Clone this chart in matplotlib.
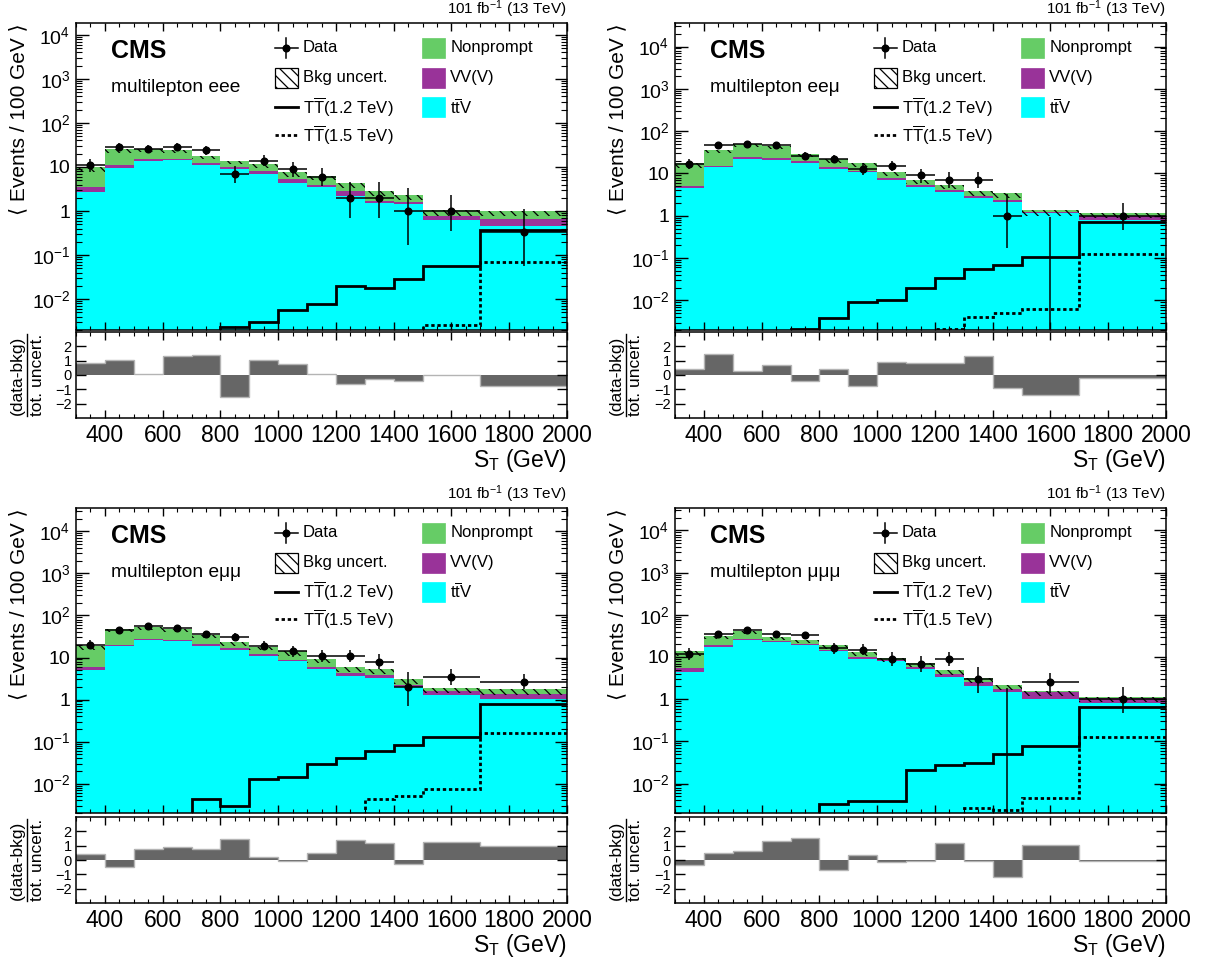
import numpy as np
import matplotlib
matplotlib.use('Agg')
import matplotlib.pyplot as plt
from matplotlib.ticker import LogLocator, FuncFormatter, MultipleLocator, FixedLocator, NullFormatter
from matplotlib.lines import Line2D
from matplotlib.patches import Rectangle

plt.rcParams['font.family'] = ['Liberation Sans', 'DejaVu Sans']
plt.rcParams['mathtext.fontset'] = 'custom'
plt.rcParams['mathtext.rm'] = 'Liberation Sans'
plt.rcParams['mathtext.it'] = 'Liberation Sans:italic'
plt.rcParams['mathtext.bf'] = 'Liberation Sans:bold'
plt.rcParams['mathtext.sf'] = 'Liberation Sans'
plt.rcParams['hatch.linewidth'] = 0.9
plt.rcParams['axes.unicode_minus'] = True

# ---------------- data ----------------
bin_edges = [300, 400, 500, 600, 700, 800, 900, 1000, 1100, 1200, 1300, 1400, 1500, 1700, 2000]
channels = ['eee', 'ee\u03bc', 'e\u03bc\u03bc', '\u03bc\u03bc\u03bc']

# backgrounds (events / 100 GeV)
ttv_eee = [2.75, 9.7, 13.9, 14.4, 11.1, 9.0, 6.8, 4.25, 3.6, 2.2, 1.5, 1.44, 0.62, 0.455]
vv_eee = [0.70, 1.4, 1.6, 1.1, 1.5, 1.2, 1.4, 1.0, 0.4, 0.65, 0.19, 0.16, 0.15, 0.195]
nonprompt_eee = [6.55, 13.9, 10.5, 8.5, 5.1, 3.8, 3.3, 2.35, 2.2, 1.4, 1.21, 0.7, 0.28, 0.37]

ttv_eem = [4.5, 14.6, 21.8, 21.0, 17.5, 12.9, 10.6, 7.1, 4.9, 3.56, 2.57, 2.14, 1.16, 0.8]
vv_eem = [0.6, 0.8, 2.1, 1.6, 1.7, 1.0, 0.7, 0.6, 0.5, 0.44, 0.43, 0.25, 0.08, 0.2]
nonprompt_eem = [12.4, 20.9, 25.1, 22.4, 9.8, 7.9, 6.2, 3.4, 1.7, 1.4, 0.96, 1.04, 0.10, 0.16]

ttv_emm = [5.1, 18.5, 26.1, 25.2, 19.2, 15.4, 11.1, 8.05, 5.4, 3.56, 3.25, 2.0, 1.27, 1.05]
vv_emm = [0.8, 1.8, 1.5, 1.4, 1.8, 1.5, 1.1, 0.75, 0.5, 0.7, 0.51, 0.18, 0.30, 0.34]
nonprompt_emm = [13.3, 27.2, 26.4, 20.9, 13.3, 6.2, 6.0, 5.1, 3.4, 1.64, 1.44, 0.84, 0.32, 0.36]

ttv_mmm = [4.3, 17.1, 25.5, 22.5, 18.8, 13.8, 9.1, 7.9, 5.1, 3.4, 2.1, 1.46, 1.0, 0.8]
vv_mmm = [1.2, 1.7, 1.9, 2.0, 1.7, 1.1, 0.9, 0.8, 0.7, 0.5, 0.5, 0.26, 0.48, 0.24]
nonprompt_mmm = [8.1, 13.4, 14.8, 6.0, 5.4, 3.9, 3.1, 0.8, 1.4, 1.0, 0.5, 0.45, 0.12, 0.11]

bkg_unc_rel = [0.22, 0.16, 0.15, 0.15, 0.16, 0.17, 0.18, 0.2, 0.2, 0.22, 0.24, 0.24, 0.25, 0.25]

# observed event counts per bin
data_eee = [11, 29, 26, 29, 24, 7, 14, 9, 6, 2, 2, 1, 2, 1]
data_eem = [17, 46, 50, 46, 26, 22, 13, 15, 9, 7, 7, 1, 0, 3]
data_emm = [20, 45, 57, 51, 36, 31, 19, 14, 11, 11, 8, 2, 7, 8]
data_mmm = [12, 35, 44, 35, 33, 16, 15, 9, 7, 9, 3, 0, 5, 3]

# signals (events / 100 GeV)
tt12_eee = [0.001, 0.001, 0.001, 0.001, 0.001, 0.0023, 0.003, 0.0058, 0.0077, 0.0197, 0.0184, 0.028, 0.057, 0.38]
tt15_eee = [0.001, 0.001, 0.001, 0.001, 0.001, 0.001, 0.001, 0.001, 0.001, 0.001, 0.001, 0.001, 0.0026, 0.07]
tt12_eem = [0.001, 0.001, 0.001, 0.001, 0.0021, 0.0038, 0.009, 0.0104, 0.0196, 0.0337, 0.055, 0.07, 0.106, 0.70]
tt15_eem = [0.001, 0.001, 0.001, 0.001, 0.001, 0.001, 0.001, 0.001, 0.001, 0.0021, 0.004, 0.005, 0.0062, 0.126]
tt12_emm = [0.001, 0.001, 0.001, 0.001, 0.0042, 0.0029, 0.0131, 0.0141, 0.0297, 0.0404, 0.0613, 0.082, 0.131, 0.79]
tt15_emm = [0.001, 0.001, 0.001, 0.001, 0.001, 0.001, 0.001, 0.001, 0.001, 0.001, 0.0044, 0.005, 0.0075, 0.163]
tt12_mmm = [0.001, 0.001, 0.001, 0.001, 0.001, 0.0032, 0.0039, 0.0039, 0.0213, 0.0274, 0.030, 0.0514, 0.078, 0.65]
tt15_mmm = [0.001, 0.001, 0.001, 0.001, 0.001, 0.001, 0.001, 0.001, 0.001, 0.001, 0.0026, 0.0023, 0.0046, 0.129]

# (data-bkg)/tot. uncert.
pull_eee = [0.85, 1.08, 0.07, 1.3, 1.42, -1.53, 1.08, 0.78, 0.1, -0.65, -0.25, -0.45, 0.02, -0.8]
pull_eem = [0.4, 1.47, 0.25, 0.67, -0.42, 0.4, -0.8, 0.93, 0.86, 0.81, 1.3, -0.93, -1.42, -0.22]
pull_emm = [0.44, -0.47, 0.79, 0.93, 0.77, 1.47, 0.21, -0.07, 0.49, 1.37, 1.19, -0.3, 1.26, 1.0]
pull_mmm = [-0.33, 0.51, 0.6, 1.3, 1.56, -0.67, 0.35, -0.16, -0.09, 1.21, -0.1, -1.16, 1.02, -0.1]

ymax_list = [1.85e4, 3.6e4, 3.6e4, 3.4e4]
ymin = 0.002

ttv_all = [ttv_eee, ttv_eem, ttv_emm, ttv_mmm]
vv_all = [vv_eee, vv_eem, vv_emm, vv_mmm]
np_all = [nonprompt_eee, nonprompt_eem, nonprompt_emm, nonprompt_mmm]
data_all = [data_eee, data_eem, data_emm, data_mmm]
tt12_all = [tt12_eee, tt12_eem, tt12_emm, tt12_mmm]
tt15_all = [tt15_eee, tt15_eem, tt15_emm, tt15_mmm]
pull_all = [pull_eee, pull_eem, pull_emm, pull_mmm]

lumi_text = r'101 fb$^{-1}$ (13 TeV)'
ylabel_main = '\u27e8 Events / 100 GeV \u27e9'

c_np = '#66cc66'
c_vv = '#993399'
c_ttv = '#00ffff'
c_pull = '#666666'
c_pull_edge = '#b4b4b4'
HATCH = '\\\\\\'

W, H = 1211, 960
fig = plt.figure(figsize=(W / 100, H / 100), dpi=100)


def fx(px):
    return px / W


def fy(py):
    return 1 - py / H


def garwood(n):
    n = np.asarray(n, float)
    nn = np.maximum(n, 1)
    lo = np.where(n > 0, nn * (1 - 1 / (9 * nn) - 1 / (3 * np.sqrt(nn))) ** 3, 0.0)
    m = n + 1
    hi = m * (1 - 1 / (9 * m) + 1 / (3 * np.sqrt(m))) ** 3
    return lo, hi


def ylab(v, pos):
    e = int(round(np.log10(v)))
    if e == 0:
        return '1'
    if e == 1:
        return '10'
    return r'$10^{%d}$' % e


col_left = [76, 675]
ax_w = 491
row_main = [(23, 330), (508, 813)]
row_ratio = [(332, 418), (817, 903)]

edges = np.array(bin_edges, float)
centers = 0.5 * (edges[:-1] + edges[1:])
widths = np.diff(edges)

for i, ch in enumerate(channels):
    r, c = divmod(i, 2)
    x0 = col_left[c]
    mt, mb = row_main[r]
    rt, rb = row_ratio[r]
    ax = fig.add_axes([fx(x0), fy(mb), fx(ax_w), (mb - mt) / H])
    axr = fig.add_axes([fx(x0), fy(rb), fx(ax_w), (rb - rt) / H])

    ttv = np.array(ttv_all[i])
    vv = np.array(vv_all[i])
    npr = np.array(np_all[i])
    total = ttv + vv + npr
    unc = np.array(bkg_unc_rel)

    ax.set_yscale('log')
    ax.stairs(total, edges, baseline=1e-6, fill=True, color=c_np, lw=0)
    ax.stairs(ttv + vv, edges, baseline=1e-6, fill=True, color=c_vv, lw=0)
    ax.stairs(ttv, edges, baseline=1e-6, fill=True, color=c_ttv, lw=0)
    ax.stairs(total, edges, baseline=total * (1 - unc), fill=True, facecolor='none',
              edgecolor='black', hatch=HATCH, lw=0)

    ax.stairs(tt12_all[i], edges, baseline=None, color='black', lw=2.0)
    ax.stairs(tt15_all[i], edges, baseline=None, color='black', lw=2.0, ls=(0, (1.2, 1.0)))

    cnt = np.array(data_all[i], float)
    lo, hi = garwood(cnt)
    scale = 100.0 / widths
    rate = cnt * scale
    lo_r = lo * scale
    hi_r = hi * scale
    m = cnt > 0
    ax.errorbar(centers[m], rate[m], xerr=widths[m] / 2,
                yerr=[rate[m] - lo_r[m], hi_r[m] - rate[m]],
                fmt='o', color='black', ms=4.8, elinewidth=1.1, capsize=0, zorder=5)
    if (~m).any():
        ax.vlines(centers[~m], 1e-6, hi_r[~m], color='black', lw=1.1, zorder=5)

    ax.set_xlim(300, 2000)
    ax.set_ylim(ymin, ymax_list[i])
    ax.yaxis.set_major_locator(LogLocator(base=10, numticks=20))
    ax.yaxis.set_minor_locator(LogLocator(base=10, subs=np.arange(2, 10), numticks=20))
    ax.yaxis.set_major_formatter(FuncFormatter(ylab))
    ax.yaxis.set_minor_formatter(NullFormatter())
    ax.xaxis.set_major_locator(MultipleLocator(200))
    ax.xaxis.set_minor_locator(MultipleLocator(50))
    ax.tick_params(which='both', direction='in', top=True, right=True, labelbottom=False)
    ax.tick_params(axis='y', which='major', length=9, width=1.0, labelsize=14, pad=4)
    ax.tick_params(axis='y', which='minor', length=4.5, width=0.8)
    ax.tick_params(axis='x', which='major', length=6, width=1.0)
    ax.tick_params(axis='x', which='minor', length=3, width=0.8)
    for s in ax.spines.values():
        s.set_linewidth(1.1)

    # texts
    ax.text(1.0, 1.0 + 3 / (mb - mt), lumi_text, transform=ax.transAxes, ha='right', va='bottom', fontsize=11)
    ax.text(0.071, 0.909, 'CMS', transform=ax.transAxes, ha='left', va='center', fontsize=18, fontweight='bold')
    ax.text(0.071, 0.79, 'multilepton ' + ch, transform=ax.transAxes, ha='left', va='center', fontsize=13.8)
    fig.text(fx(x0 - 57), fy(mt), ylabel_main, rotation=90, ha='center', va='top', fontsize=15)

    # legend (manual)
    hh = 10 / (mb - mt)
    rows_y = [0.919, 0.821, 0.726, 0.635]
    a0, a1, at = 0.405, 0.452, 0.462
    b0, b1, bt = 0.705, 0.752, 0.762
    am = 0.5 * (a0 + a1)
    tr = ax.transAxes
    ax.add_line(Line2D([a0, a1], [rows_y[0]] * 2, color='black', lw=1.1, transform=tr, clip_on=False))
    ax.add_line(Line2D([am, am], [rows_y[0] - hh, rows_y[0] + hh], color='black', lw=1.1, transform=tr, clip_on=False))
    ax.add_line(Line2D([am], [rows_y[0]], marker='o', ms=4.8, color='black', transform=tr, clip_on=False))
    ax.add_patch(Rectangle((a0, rows_y[1] - hh), a1 - a0, 2 * hh, facecolor='white', edgecolor='black',
                           hatch=HATCH, lw=0.9, transform=tr, clip_on=False))
    ax.add_line(Line2D([a0, a1], [rows_y[2]] * 2, color='black', lw=2.0, transform=tr, clip_on=False))
    ax.add_line(Line2D([a0, a1], [rows_y[3]] * 2, color='black', lw=2.0, ls=(0, (1.2, 1.0)), transform=tr, clip_on=False))
    for k, colr in enumerate([c_np, c_vv, c_ttv]):
        ax.add_patch(Rectangle((b0, rows_y[k] - hh), b1 - b0, 2 * hh, facecolor=colr, edgecolor=colr,
                               lw=0.5, transform=tr, clip_on=False))
    labs1 = ['Data', 'Bkg uncert.', r'T$\overline{\mathrm{T}}$(1.2 TeV)', r'T$\overline{\mathrm{T}}$(1.5 TeV)']
    labs2 = ['Nonprompt', 'VV(V)', r't$\overline{\mathrm{t}}$V']
    for k, t in enumerate(labs1):
        ax.text(at, rows_y[k], t, transform=tr, ha='left', va='center', fontsize=12)
    for k, t in enumerate(labs2):
        ax.text(bt, rows_y[k], t, transform=tr, ha='left', va='center', fontsize=12)

    # ratio panel
    pull = np.array(pull_all[i])
    axr.stairs(pull, edges, baseline=0, fill=True, color=c_pull, lw=0)
    axr.stairs(pull, edges, baseline=None, color=c_pull_edge, lw=1.0)
    axr.set_xlim(300, 2000)
    axr.set_ylim(-3, 3)
    axr.yaxis.set_major_locator(FixedLocator([-2, -1, 0, 1, 2]))
    axr.xaxis.set_major_locator(MultipleLocator(200))
    axr.xaxis.set_minor_locator(MultipleLocator(50))
    axr.tick_params(which='both', direction='in', top=True, right=True)
    axr.tick_params(axis='y', which='major', length=7, width=1.0, labelsize=10.5, pad=3)
    axr.tick_params(axis='x', which='major', length=6, width=1.0, labelsize=16.5, pad=4)
    axr.tick_params(axis='x', which='minor', length=3, width=0.8)
    for s in axr.spines.values():
        s.set_linewidth(1.1)

    yc = 0.5 * (rt + rb)
    fig.text(fx(x0 - 59), fy(yc), '(data-bkg)', rotation=90, ha='center', va='center', fontsize=12.5)
    fig.text(fx(x0 - 39), fy(yc), 'tot. uncert.', rotation=90, ha='center', va='center', fontsize=12.5)
    fig.add_artist(Line2D([fx(x0 - 49)] * 2, [fy(rt + 2), fy(rb - 2)], color='black', lw=1.0))
    fig.text(fx(x0 + ax_w), fy(rb + 29), r'S$_{\mathrm{T}}$ (GeV)', ha='right', va='top', fontsize=16.5)

fig.savefig('out.png', dpi=100)
